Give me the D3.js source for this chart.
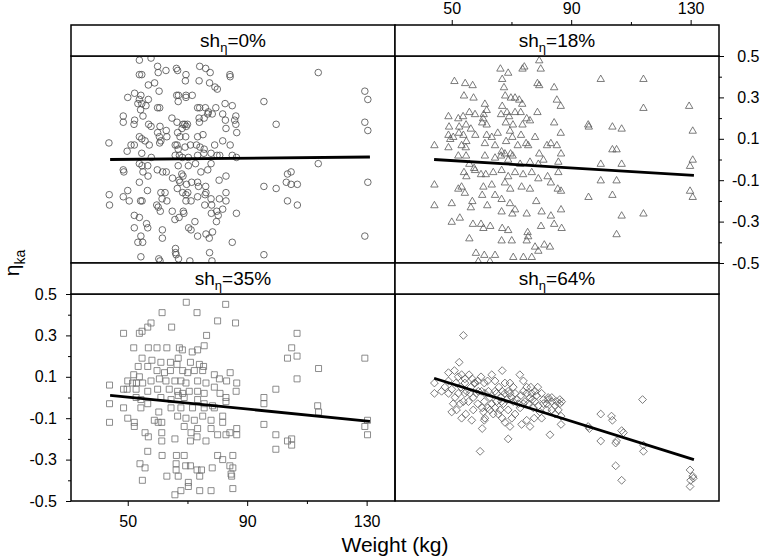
<!DOCTYPE html>
<html><head><meta charset="utf-8">
<script src="https://cdn.jsdelivr.net/npm/d3@7"></script>
<style>
body{margin:0;background:#fff}
svg{display:block}
text{font-family:"Liberation Sans",Arial,Helvetica,sans-serif;fill:#000}
</style>
</head><body>
<svg id="c" width="761" height="559"></svg>
<script>
// ---- data (weight kg, eta_ka) ----
const stripLabels = ["0%", "18%", "35%", "64%"];
const xMajor = [50, 90, 130];
const xMinor = [70, 110];
const yMajor = [-0.5, -0.3, -0.1, 0.1, 0.3, 0.5];
const yMinor = [-0.4, -0.2, 0, 0.2, 0.4];
const fitWeight = [44.1, 131.1];
const fit0 = [0.0, 0.012];
const fit18 = [0.0, -0.077];
const fit35 = [0.01, -0.115];
const fit64 = [0.093, -0.30];

const pts0 = [[53.9,0.48],[57.8,0.49],[60.0,0.45],[60.2,0.42],[62.8,0.43],[66.3,0.44],[66.7,0.43],[69.5,0.41],[69.3,0.38],[74.1,0.45],[76.1,0.44],[77.6,0.42],[84.2,0.41],[84.3,0.40],[77.4,0.37],[79.2,0.35],[80.0,0.34],[73.9,0.38],[113.8,0.42],[53.9,0.41],[54.7,0.41],[56.9,0.36],[59.0,0.37],[60.5,0.33],[52.3,0.32],[54.4,0.31],[50.0,0.30],[53.9,0.29],[56.9,0.29],[53.4,0.27],[54.7,0.27],[56.1,0.26],[54.3,0.24],[60.0,0.25],[60.7,0.25],[66.4,0.31],[67.0,0.31],[69.5,0.31],[69.5,0.30],[71.6,0.31],[66.9,0.28],[73.4,0.25],[74.1,0.25],[76.0,0.25],[77.0,0.23],[79.5,0.25],[82.6,0.27],[85.0,0.26],[95.6,0.28],[129.4,0.33],[130.4,0.29],
[48.5,0.21],[48.5,0.18],[52.3,0.19],[52.1,0.17],[55.1,0.21],[57.0,0.17],[57.8,0.16],[60.8,0.16],[64.8,0.20],[66.5,0.18],[68.5,0.17],[69.1,0.17],[70.0,0.17],[69.6,0.16],[73.9,0.20],[75.6,0.20],[76.8,0.22],[78.3,0.22],[81.8,0.22],[82.7,0.19],[86.2,0.21],[85.8,0.19],[86.2,0.17],[82.9,0.15],[86.5,0.13],[99.7,0.17],[129.4,0.18],[130.4,0.14],[74.0,0.18],
[60.0,0.13],[60.6,0.11],[62.9,0.14],[63.1,0.11],[66.7,0.13],[67.5,0.11],[69.4,0.11],[73.4,0.11],[75.2,0.12],[68.2,0.15],[43.7,0.08],[49.8,0.04],[51.1,0.07],[52.2,0.07],[53.9,0.11],[54.7,0.10],[55.8,0.09],[57.2,0.07],[60.7,0.08],[61.1,0.09],[65.9,0.07],[66.5,0.07],[66.9,0.05],[69.2,0.06],[71.0,0.07],[73.0,0.07],[74.2,0.06],[75.6,0.05],[79.1,0.07],[81.8,0.09],[84.3,0.07],[54.7,0.03],[57.9,0.01],[65.9,0.02],[67.3,0.02],[68.3,0.01],[70.3,0.01],[73.4,0.02],[75.5,0.03],[77.9,0.03],[79.9,0.02],[80.8,0.02],[85.0,0.02],[86.4,0.01],
[53.9,-0.02],[54.8,-0.03],[56.7,-0.03],[55.1,-0.06],[48.5,-0.05],[48.7,-0.06],[59.9,-0.05],[61.7,-0.06],[62.9,-0.06],[65.0,-0.09],[66.9,-0.03],[70.3,-0.03],[72.7,-0.02],[77.9,-0.02],[76.8,-0.05],[74.5,-0.06],[82.9,-0.08],[80.6,-0.10],[113.8,-0.02],[103.5,-0.07],[104.7,-0.06],[103.1,-0.11],[104.7,-0.12],[106.8,-0.12],[130.4,-0.11],[53.9,-0.11],[56.8,-0.08],[56.6,-0.15],[50.0,-0.15],[48.5,-0.18],[50.5,-0.20],[43.8,-0.17],[43.9,-0.22],[54.3,-0.20],[54.8,-0.20],[59.7,-0.22],[60.2,-0.23],[60.9,-0.25],[61.1,-0.16],[62.5,-0.16],[63.1,-0.20],[61.5,-0.19],[66.6,-0.14],[67.5,-0.11],[68.1,-0.07],[68.5,-0.08],[67.2,-0.10],[69.7,-0.12],[71.4,-0.11],[73.4,-0.11],[73.7,-0.13],[76.1,-0.13],[76.2,-0.16],[75.9,-0.17],[73.4,-0.18],[71.2,-0.20],[69.5,-0.20],[69.5,-0.17],[68.4,-0.16],[70.1,-0.16],[77.9,-0.19],[80.7,-0.19],[82.9,-0.16],[82.9,-0.20],[75.8,-0.22],[78.1,-0.22],[81.8,-0.24],[79.8,-0.25],[78.0,-0.26],[80.3,-0.27],[79.7,-0.30],[86.4,-0.26],[95.6,-0.13],[99.7,-0.14],[103.5,-0.20],[106.8,-0.22],[64.9,-0.25],[68.6,-0.25],[68.8,-0.26],[65.8,-0.29],[67.2,-0.28],[70.4,-0.33],[72.5,-0.30],[71.2,-0.34],[73.4,-0.37],[76.2,-0.36],[77.3,-0.38],[78.4,-0.35],[52.2,-0.27],[53.9,-0.28],[56.3,-0.31],[56.7,-0.33],[52.2,-0.33],[61.6,-0.34],[61.6,-0.38],[54.4,-0.37],[53.4,-0.40],[55.0,-0.40],[85.0,-0.40],[129.4,-0.37],[54.4,-0.47],[60.4,-0.48],[60.8,-0.49],[66.0,-0.43],[66.0,-0.45],[66.2,-0.46],[67.0,-0.48],[70.8,-0.49],[77.4,-0.45],[78.2,-0.49],[95.6,-0.46]];

const pts18 = [[79.3,0.48],[79.8,0.44],[73.7,0.44],[74.3,0.45],[66.3,0.44],[68.9,0.42],[66.9,0.39],[67.5,0.35],[50.9,0.38],[54.5,0.37],[57.0,0.36],[78.7,0.37],[79.3,0.36],[84.3,0.35],[99.9,0.39],[114.2,0.39],[54.1,0.31],[57.3,0.30],[67.9,0.31],[71.2,0.30],[69.8,0.30],[72.6,0.29],[73.6,0.27],[61.1,0.27],[85.2,0.29],[86.5,0.26],[114.2,0.25],[129.5,0.26],
[55.9,0.23],[61.7,0.24],[60.7,0.22],[48.9,0.21],[52.2,0.20],[53.8,0.21],[57.8,0.22],[60.5,0.20],[66.9,0.26],[66.5,0.22],[68.5,0.23],[71.2,0.23],[69.2,0.21],[73.1,0.23],[75.1,0.20],[76.2,0.19],[78.7,0.23],[68.1,0.18],[70.5,0.17],[73.7,0.17],[49.1,0.16],[52.5,0.16],[54.8,0.17],[56.4,0.15],[61.7,0.17],[60.2,0.18],[84.3,0.18],[86.5,0.13],[95.7,0.17],[95.9,0.16],[103.8,0.16],[106.9,0.15],[130.7,0.14],
[48.9,0.12],[50.5,0.11],[52.4,0.13],[53.9,0.12],[49.5,0.10],[54.9,0.09],[57.9,0.12],[61.7,0.12],[63.4,0.11],[65.4,0.13],[68.2,0.09],[69.5,0.14],[70.3,0.11],[73.2,0.12],[74.9,0.08],[77.9,0.11],[81.9,0.07],[83.2,0.08],[44.2,0.07],[48.9,0.06],[53.3,0.07],[54.7,0.06],[61.1,0.08],[64.5,0.07],[66.7,0.04],[67.8,0.03],[69.7,0.03],[72.1,0.07],[75.6,0.07],[79.3,0.03],[85.2,0.07],[86.6,0.03],[103.8,0.05],[105.2,0.05],
[52.2,0.02],[54.8,0.02],[55.9,-0.02],[57.5,-0.04],[61.1,0.02],[64.5,0.01],[66.5,0.02],[68.9,0.0],[70.4,0.02],[72.9,-0.02],[76.2,-0.01],[79.0,-0.02],[80.7,0.0],[85.7,-0.01],[99.9,-0.02],[106.9,-0.02],[130.7,0.0],[129.8,-0.03],
[44.2,-0.12],[54.1,-0.06],[54.9,-0.08],[57.8,-0.05],[59.8,-0.07],[61.4,-0.07],[63.9,-0.06],[66.7,-0.05],[68.9,-0.08],[71.2,-0.06],[73.9,-0.07],[76.8,-0.06],[79.0,-0.09],[82.1,-0.08],[85.7,-0.06],[53.3,-0.13],[52.2,-0.14],[54.4,-0.16],[60.6,-0.13],[63.4,-0.12],[67.8,-0.11],[69.6,-0.14],[73.4,-0.13],[76.2,-0.14],[83.2,-0.11],[85.5,-0.14],[86.6,-0.15],[99.9,-0.10],[105.2,-0.10],[95.8,-0.18],[103.8,-0.17],[129.8,-0.15],[130.7,-0.18],
[44.2,-0.22],[50.0,-0.21],[56.9,-0.20],[60.2,-0.17],[61.9,-0.22],[56.4,-0.23],[66.7,-0.19],[69.5,-0.21],[71.2,-0.24],[78.3,-0.20],[64.5,-0.17],[70.3,-0.26],[75.1,-0.26],[80.1,-0.25],[83.2,-0.27],[86.6,-0.24],[106.9,-0.27],[114.2,-0.26],[50.0,-0.30],[52.7,-0.28],[57.1,-0.31],[60.6,-0.33],[59.8,-0.31],[62.9,-0.32],[66.9,-0.33],[66.7,-0.25],[68.9,-0.34],[75.4,-0.35],[75.6,-0.37],[79.9,-0.32],[84.3,-0.31],[86.8,-0.33],[105.2,-0.36],
[55.9,-0.38],[66.7,-0.39],[70.1,-0.39],[75.1,-0.39],[77.9,-0.42],[81.0,-0.41],[82.9,-0.42],[58.1,-0.45],[60.9,-0.46],[64.5,-0.46],[70.6,-0.47],[74.0,-0.47],[76.8,-0.47],[79.0,-0.44],[58.9,-0.49],[62.8,-0.49]];

const pts35 = [[69.6,0.46],[82.8,0.45],[61.5,0.41],[73.2,0.41],[80.1,0.37],[86.1,0.36],[57.8,0.36],[56.7,0.34],[54.8,0.32],[53.9,0.31],[48.6,0.31],[64.7,0.34],[76.4,0.30],[106.7,0.31],[104.9,0.24],[106.7,0.20],[103.5,0.19],[129.4,0.19],[113.9,0.14],[106.7,0.09],
[52.0,0.24],[56.9,0.24],[59.8,0.24],[63.1,0.24],[67.3,0.24],[68.3,0.23],[71.6,0.22],[73.4,0.23],[75.6,0.25],[54.8,0.19],[58.1,0.18],[61.1,0.17],[64.3,0.17],[66.9,0.19],[66.5,0.16],[71.0,0.17],[74.0,0.16],[75.4,0.15],[53.5,0.15],[56.7,0.15],[59.8,0.13],[62.3,0.12],[64.3,0.13],[68.4,0.13],[70.1,0.12],[72.3,0.13],[75.1,0.13],[79.0,0.11],[84.3,0.12],[52.0,0.11],[53.9,0.10],[50.0,0.08],[51.6,0.07],[52.9,0.07],[55.0,0.07],[57.8,0.08],[60.6,0.09],[62.8,0.08],[65.8,0.08],[67.8,0.08],[69.5,0.07],[73.4,0.08],[76.2,0.07],[80.7,0.09],[83.1,0.08],[86.5,0.07],
[43.9,0.06],[48.6,0.04],[49.8,0.04],[52.8,0.04],[56.7,0.03],[60.0,0.04],[63.9,0.04],[66.7,0.03],[68.4,0.02],[70.6,0.03],[73.4,0.03],[75.6,0.02],[79.0,0.05],[80.9,0.02],[82.9,0.0],[86.3,0.03],[99.6,0.04],[52.8,0.0],[54.4,-0.01],[56.7,-0.03],[61.1,0.0],[64.5,-0.01],[66.9,0.01],[68.9,0.0],[73.4,-0.01],[75.6,-0.03],[78.4,-0.04],[82.9,-0.02],[95.6,0.0],[95.6,-0.03],[43.9,-0.03],[48.6,-0.05],[54.4,-0.05],[60.4,-0.07],[64.5,-0.05],[67.8,-0.05],[71.7,-0.05],[75.6,-0.05],[79.0,-0.05],[113.6,-0.04],[113.9,-0.07],
[50.0,-0.10],[52.2,-0.12],[52.2,-0.14],[58.9,-0.11],[60.2,-0.12],[61.4,-0.12],[66.7,-0.09],[69.5,-0.10],[72.3,-0.11],[75.1,-0.09],[77.9,-0.11],[81.8,-0.09],[81.8,-0.12],[43.9,-0.12],[55.8,-0.17],[56.9,-0.19],[61.4,-0.17],[61.4,-0.21],[65.8,-0.20],[68.9,-0.14],[71.2,-0.17],[71.0,-0.21],[73.4,-0.15],[73.2,-0.19],[76.2,-0.21],[77.9,-0.15],[80.1,-0.18],[82.9,-0.18],[84.2,-0.17],[86.5,-0.15],[86.5,-0.18],[95.6,-0.13],[99.6,-0.18],[103.5,-0.21],[104.9,-0.20],[104.9,-0.23],[99.6,-0.25],[130.3,-0.11],[129.4,-0.14],[130.3,-0.18],
[56.7,-0.26],[61.5,-0.28],[66.3,-0.28],[68.9,-0.28],[71.0,-0.33],[73.2,-0.35],[74.7,-0.35],[78.3,-0.34],[80.1,-0.28],[81.8,-0.30],[84.2,-0.33],[85.2,-0.28],[85.2,-0.34],[54.1,-0.32],[55.8,-0.34],[54.9,-0.40],[63.1,-0.38],[66.9,-0.38],[66.2,-0.32],[66.2,-0.35],[69.4,-0.33],[70.3,-0.41],[70.3,-0.43],[74.1,-0.38],[77.9,-0.45],[84.8,-0.38],[85.2,-0.44],[65.8,-0.47],[67.8,-0.45],[74.1,-0.45],[84.6,-0.37]];

const pts64 = [[53.9,0.30],[52.5,0.17],[48.9,0.12],[50.9,0.13],[44.2,0.07],[44.2,0.02],[48.9,0.08],[48.9,0.02],[50.0,0.04],[51.4,0.07],[52.2,0.10],[53.3,0.11],[54.4,0.09],[55.8,0.11],[56.9,0.09],[54.4,0.07],[53.1,0.05],[55.0,0.03],[56.4,0.05],[57.8,0.07],[58.7,0.08],[59.8,0.10],[60.9,0.07],[62.0,0.08],[63.4,0.11],[64.5,0.08],[66.9,0.13],[65.8,0.05],[66.9,0.03],[67.8,0.07],[69.5,0.07],[68.9,0.03],[70.6,0.05],[72.8,0.11],[74.0,0.08],[75.1,0.05],[76.5,0.05],[78.8,0.05],[76.8,0.02],[77.9,0.03],[80.1,0.02],[82.3,0.0],[83.5,0.0],[86.8,-0.02],[86.2,-0.03],[85.7,-0.06],[84.6,-0.04],
[50.0,-0.07],[51.6,-0.06],[52.8,-0.03],[53.9,-0.02],[53.3,-0.10],[54.7,-0.08],[56.7,-0.11],[57.2,-0.06],[58.7,-0.03],[60.9,-0.02],[60.2,-0.05],[61.1,-0.10],[60.9,-0.11],[60.2,-0.15],[59.5,-0.26],[62.0,-0.05],[63.4,-0.03],[65.0,-0.02],[66.5,0.0],[67.8,0.02],[67.3,-0.03],[66.2,-0.06],[68.9,-0.06],[70.6,-0.02],[71.7,-0.01],[73.2,0.01],[74.5,-0.02],[75.6,-0.03],[77.0,-0.01],[79.0,-0.04],[80.7,-0.03],[81.8,-0.06],[83.5,-0.06],[84.6,-0.08],[86.6,-0.09],[86.6,-0.13],[66.9,-0.10],[67.8,-0.12],[69.5,-0.14],[68.9,-0.20],[73.4,-0.13],[76.2,-0.14],[75.1,-0.11],[77.6,-0.10],[80.1,-0.10],[82.9,-0.18],[71.2,-0.08],[72.9,-0.05],[79.5,-0.07],[64.5,0.03],[62.8,0.0],[58.9,0.03],[63.9,-0.08],[65.6,-0.08],[70.1,-0.10],[77.3,-0.05],
[95.7,-0.14],[96.1,-0.15],[99.9,-0.08],[103.5,-0.09],[103.8,-0.11],[106.9,-0.16],[107.5,-0.17],[105.2,-0.21],[104.9,-0.22],[99.9,-0.21],[113.9,-0.01],[114.2,-0.26],[114.2,-0.23],[104.9,-0.33],[106.9,-0.40],[129.8,-0.35],[130.7,-0.38],[130.0,-0.40],[129.8,-0.43],[130.9,-0.39],[57.6,0.07],[56.1,0.02],[70.1,0.0],[74.0,0.03],[82.3,-0.01],
[65.0,0.02],[66.7,-0.02],[68.4,-0.01],[69.5,0.02],[71.2,0.02],[72.3,-0.03],[74.0,-0.03],[75.1,0.02],[76.2,0.0],[77.9,-0.02],[78.4,0.01],[80.7,-0.01],[81.8,-0.03],[83.5,-0.02],[85.2,-0.02],[86.2,-0.01],[54.4,0.02],[55.6,-0.02],[57.2,0.0],[58.3,0.02],[60.0,0.03],[61.1,0.02],[62.3,0.03],[52.2,0.02],[51.1,0.0],[50.5,-0.03],[47.7,0.05],[46.6,0.03],[60.6,-0.07],[62.8,-0.06],[64.5,-0.05]];

// ---- drawing ----
const svg = d3.select("#c");
const L = 71, R = 719, T = 25, PW = 324, SH = 31, PH = 207;
const x = d3.scaleLinear().domain([31, 139.5]).range([0, PW]);
const y = d3.scaleLinear().domain([-0.5, 0.5]).range([PH, 0]);

const shapes = {
  circle: "M3.3,0A3.3,3.3 0 1,1 -3.3,0A3.3,3.3 0 1,1 3.3,0Z",
  triangle: "M0,-3.7L3.7,2.7L-3.7,2.7Z",
  square: "M-3,-3L3,-3L3,3L-3,3Z",
  diamond: "M0,-3.9L3.9,0L0,3.9L-3.9,0Z"
};
const panels = [
  {label: stripLabels[0], pts: pts0, fit: fit0, shape: "circle", color: "#4a4a4a"},
  {label: stripLabels[1], pts: pts18, fit: fit18, shape: "triangle", color: "#5a5a5a"},
  {label: stripLabels[2], pts: pts35, fit: fit35, shape: "square", color: "#707070"},
  {label: stripLabels[3], pts: pts64, fit: fit64, shape: "diamond", color: "#5a5a5a"}
];

const defs = svg.append("defs");
const fmt = d => d.toFixed(1);

panels.forEach((p, i) => {
  const col = i % 2, row = Math.floor(i / 2);
  const px = L + col * PW;
  const sy = T + row * (SH + PH);
  const py = sy + SH;

  defs.append("clipPath").attr("id", "clip" + i)
    .append("rect").attr("x", 0).attr("y", 0).attr("width", PW).attr("height", PH);

  const g = svg.append("g").attr("transform", `translate(${px},${py})`);
  const inner = g.append("g").attr("clip-path", `url(#clip${i})`);
  inner.selectAll("path.pt").data(p.pts).join("path")
    .attr("class", "pt")
    .attr("d", shapes[p.shape])
    .attr("transform", d => `translate(${x(d[0])},${y(d[1])})`)
    .attr("fill", "none")
    .attr("stroke", p.color)
    .attr("stroke-width", 0.8);

  const line = d3.line().x(d => x(d[0])).y(d => y(d[1]));
  inner.append("path")
    .attr("d", line(fitWeight.map((w, k) => [w, p.fit[k]])))
    .attr("fill", "none").attr("stroke", "#000").attr("stroke-width", 2.8);

  g.append("rect").attr("x", 0).attr("y", 0).attr("width", PW).attr("height", PH)
    .attr("fill", "none").attr("stroke", "#000").attr("stroke-width", 1.5);

  // strip
  const s = svg.append("g").attr("transform", `translate(${px},${sy})`);
  s.append("rect").attr("width", PW).attr("height", SH)
    .attr("fill", "#fff").attr("stroke", "#000").attr("stroke-width", 1.5);
  const t = s.append("text").attr("x", PW / 2).attr("y", 22)
    .attr("text-anchor", "middle").attr("font-size", 19).attr("fill", "#000");
  t.append("tspan").attr("fill", "#000").text("sh");
  t.append("tspan").attr("dy", 5).attr("font-size", 13).attr("fill", "#000").text("η");
  t.append("tspan").attr("dy", -5).attr("fill", "#000").text("=" + p.label);
});

// axes
function styleAxis(sel) {
  sel.select(".domain").remove();
  sel.selectAll("line").attr("stroke", "#000").attr("stroke-width", 1);
  sel.selectAll("text").attr("font-size", 16).attr("font-family", '"Liberation Sans",Arial,sans-serif').attr("fill", "#000");
}
// bottom axis (bottom-left panel)
const yb = T + 2 * SH + 2 * PH;
svg.append("g").attr("transform", `translate(${L},${yb})`)
  .call(d3.axisBottom(x).tickValues(xMajor).tickSize(5).tickPadding(9.5).tickFormat(d3.format("d"))).call(styleAxis);
svg.append("g").attr("transform", `translate(${L},${yb})`)
  .call(d3.axisBottom(x).tickValues(xMinor).tickSize(3).tickFormat("")).call(styleAxis);
// top axis (top-right panel)
svg.append("g").attr("transform", `translate(${L + PW},${T})`)
  .call(d3.axisTop(x).tickValues(xMajor).tickSize(5).tickPadding(6.5).tickFormat(d3.format("d"))).call(styleAxis);
svg.append("g").attr("transform", `translate(${L + PW},${T})`)
  .call(d3.axisTop(x).tickValues(xMinor).tickSize(3).tickFormat("")).call(styleAxis);
// left axis (bottom-left panel)
const yTopB = T + 2 * SH + PH;
svg.append("g").attr("transform", `translate(${L},${yTopB})`)
  .call(d3.axisLeft(y).tickValues(yMajor).tickSize(5).tickPadding(9).tickFormat(fmt)).call(styleAxis);
svg.append("g").attr("transform", `translate(${L},${yTopB})`)
  .call(d3.axisLeft(y).tickValues(yMinor).tickSize(3).tickFormat("")).call(styleAxis);
// right axis (top-right panel), labels right-aligned near the page edge
svg.append("g").attr("transform", `translate(${R},${T + SH})`)
  .call(d3.axisRight(y).tickValues(yMajor).tickSize(5).tickPadding(13).tickFormat(fmt)).call(styleAxis)
  .call(g => g.selectAll("text").attr("text-anchor", "end").attr("x", 40.5));
svg.append("g").attr("transform", `translate(${R},${T + SH})`)
  .call(d3.axisRight(y).tickValues(yMinor).tickSize(3).tickFormat("")).call(styleAxis);

// axis titles
svg.append("text").attr("x", (L + R) / 2).attr("y", 551.5)
  .attr("text-anchor", "middle").attr("font-size", 21).text("Weight (kg)");
const yl = svg.append("text").attr("transform", "translate(19,263) rotate(-90)")
  .attr("text-anchor", "middle").attr("font-size", 21);
yl.append("tspan").text("η");
yl.append("tspan").attr("dy", 6).attr("font-size", 14).text("ka");
</script>
</body></html>
